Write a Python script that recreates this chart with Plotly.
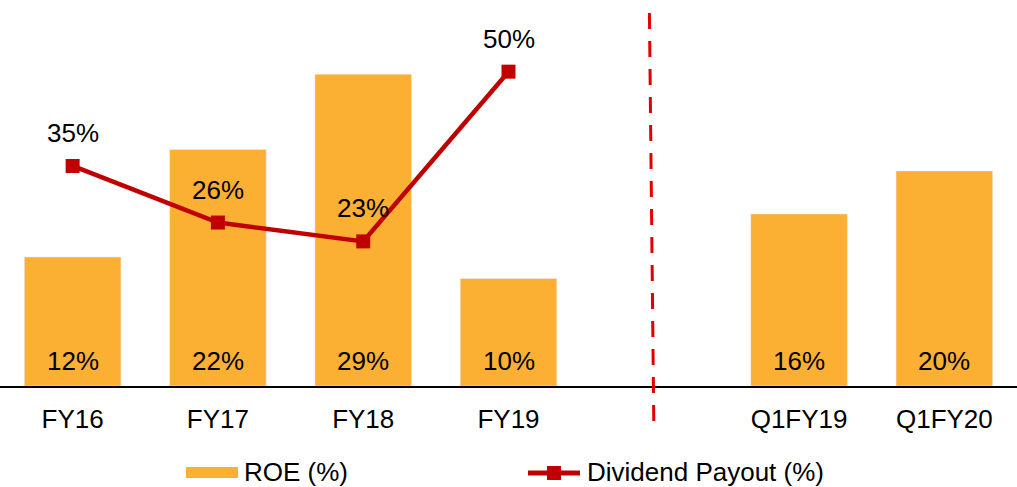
import plotly.graph_objects as go

# 数据
categories = ["FY16", "FY17", "FY18", "FY19", " ", "Q1FY19", "Q1FY20"]
roe = [12, 22, 29, 10, None, 16, 20]
payout_cats = ["FY16", "FY17", "FY18", "FY19"]
payout = [35, 26, 23, 50]

W, H = 1017, 487
PLOT_H = 386  # 绘图区高度（像素）

BAR_COLOR = "#FBB034"
LINE_COLOR = "#C00000"
FONT = "Liberation Sans, Arial, sans-serif"
LABEL_SIZE = 26
LEGEND_SIZE = 26


def px_x(x):
    return x / W


def px_y(y):
    return (PLOT_H - y) / PLOT_H


fig = go.Figure()

# ROE 柱形图
fig.add_trace(go.Bar(
    x=categories, y=roe, name="ROE (%)",
    marker_color=BAR_COLOR, width=0.665,
    showlegend=False, hoverinfo="x+y",
))

# 股息支付率折线
fig.add_trace(go.Scatter(
    x=payout_cats, y=payout, name="Dividend Payout (%)",
    mode="lines+markers", yaxis="y2",
    line=dict(color=LINE_COLOR, width=4.5),
    marker=dict(symbol="square", size=14, color=LINE_COLOR),
    showlegend=False,
))

annotations = []
# 柱内标签（底部）
for c, v in zip(categories, roe):
    if v is None:
        continue
    annotations.append(dict(
        x=c, y=0, xref="x", yref="y", text=f"{v}%", showarrow=False,
        yanchor="middle", yshift=25, font=dict(size=LABEL_SIZE, color="#000"),
    ))
# 折线标签
for c, v in zip(payout_cats, payout):
    annotations.append(dict(
        x=c, y=v, xref="x", yref="y2", text=f"{v}%", showarrow=False,
        yanchor="middle", yshift=33, font=dict(size=LABEL_SIZE, color="#000"),
    ))

# 手工图例
annotations.append(dict(
    x=px_x(242), y=px_y(472), xref="paper", yref="paper", text="ROE (%)",
    showarrow=False, xanchor="left", yanchor="middle",
    font=dict(size=LEGEND_SIZE, color="#000"),
))
annotations.append(dict(
    x=px_x(585), y=px_y(472), xref="paper", yref="paper", text="Dividend Payout (%)",
    showarrow=False, xanchor="left", yanchor="middle",
    font=dict(size=LEGEND_SIZE, color="#000"),
))

shapes = [
    # 分隔虚线
    dict(type="line", xref="x", yref="paper", x0=3.97, x1=4.0,
         y0=px_y(13), y1=px_y(422),
         line=dict(color="#E00000", width=3, dash="16px,12px")),
    # 图例：柱
    dict(type="rect", xref="paper", yref="paper",
         x0=px_x(186), x1=px_x(238), y0=px_y(467), y1=px_y(478),
         line=dict(width=0), fillcolor=BAR_COLOR),
    # 图例：折线
    dict(type="line", xref="paper", yref="paper",
         x0=px_x(528), x1=px_x(580), y0=px_y(473), y1=px_y(473),
         line=dict(color=LINE_COLOR, width=5)),
    dict(type="rect", xref="paper", yref="paper",
         x0=px_x(547), x1=px_x(561), y0=px_y(466), y1=px_y(480),
         line=dict(width=0), fillcolor=LINE_COLOR),
]

fig.update_layout(
    width=W, height=H,
    margin=dict(l=0, r=0, t=0, b=H - PLOT_H),
    paper_bgcolor="white", plot_bgcolor="white",
    font=dict(family=FONT, size=LABEL_SIZE, color="#000"),
    showlegend=False,
    annotations=annotations,
    shapes=shapes,
    xaxis=dict(
        type="category", categoryorder="array", categoryarray=categories,
        range=[-0.5, 6.5], showgrid=False, zeroline=False,
        showline=True, linecolor="#000", linewidth=1.5,
        ticks="", ticklabelstandoff=9, tickfont=dict(size=LABEL_SIZE),
    ),
    yaxis=dict(range=[0, 35.9], visible=False, showgrid=False),
    yaxis2=dict(range=[0, 61.4], overlaying="y", visible=False, showgrid=False),
)

# 去掉页面默认边距，使图表贴齐窗口；隐藏工具条
fig.write_html(
    "out.html",
    config={"displayModeBar": False},
    post_script="document.body.style.margin='0';",
)
